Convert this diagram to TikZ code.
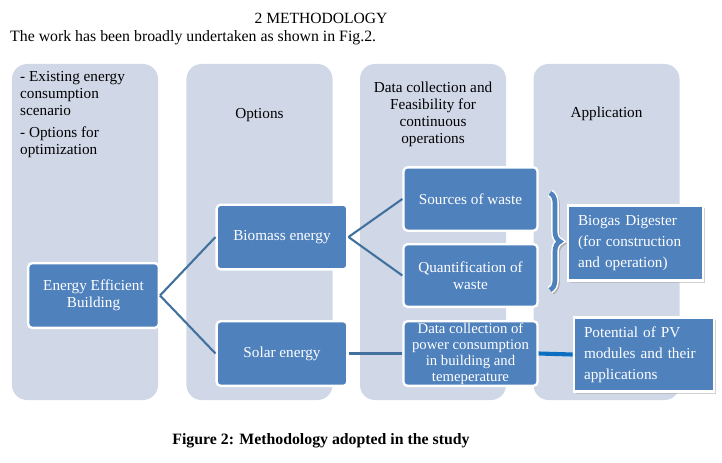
\documentclass[tikz,border=0pt]{standalone}
\usepackage{fontspec}
\setmainfont{Liberation Serif}
\usetikzlibrary{shadows,decorations.pathreplacing}
\definecolor{lanebg}{HTML}{D0D8E8}
\definecolor{boxblue}{HTML}{4F81BD}
\definecolor{linkblue}{HTML}{41719C}
\definecolor{hlblue}{HTML}{0B6EC0}
\newcommand{\boxfont}{\fontsize{13}{14.5}\selectfont}
\tikzset{
  lane/.style={rectangle, rounded corners=0.45cm, fill=lanebg, minimum width=4.38cm, minimum height=10.08cm, inner sep=0pt},
  head/.style={align=center, font=\boxfont},
  item/.style={rectangle, rounded corners=0.12cm, fill=boxblue, draw=white, line width=2pt, text=white, align=center, minimum width=3.92cm, minimum height=1.94cm, inner sep=0pt, font=\boxfont},
  result/.style={rectangle, fill=boxblue, draw=white, line width=2.5pt, text=white, align=left, inner xsep=0.3cm, font=\fontsize{13}{18}\selectfont, drop shadow={shadow xshift=2pt, shadow yshift=-2pt, fill=black!35}},
  connect/.style={draw=linkblue, line width=1.8pt},
  strong/.style={draw=hlblue, line width=3.5pt},
  curly/.style={decorate, decoration={brace, amplitude=0.3cm}}
}

\begin{document}
\begin{tikzpicture}[x=0.03cm, y=-0.03cm]
  \useasboundingbox (0,0) rectangle (722,462);

  \node[font=\fontsize{13.3}{15}\selectfont] (title) at (321,18) {2 METHODOLOGY};
  \node[font=\fontsize{13.5}{15}\selectfont, anchor=west, inner sep=0pt] (intro) at (10,38) {The work has been broadly undertaken as shown in Fig.2.};

  % columns
  \node[lane] (col1) at (85,232) {};
  \node[lane] (col2) at (259.5,232) {};
  \node[lane] (col3) at (433,232) {};
  \node[lane] (col4) at (606.5,232) {};

  \node[head, align=left, anchor=west, inner sep=0pt] (hdr1) at (20,114.5) {- Existing energy\\consumption\\scenario\\[4pt]- Options for\\optimization};
  \node[head] (hdr2) at (259.5,115) {Options};
  \node[head] (hdr3) at (433,114) {Data collection and\\Feasibility for\\continuous\\operations};
  \node[head] (hdr4) at (606.5,114) {Application};

  % boxes
  \node[item] (eeb) at (93.5,295.5) {Energy Efficient\\Building};
  \node[item] (biomass) at (282,237) {Biomass energy};
  \node[item] (solar) at (282,353.5) {Solar energy};
  \node[item, minimum width=4.02cm, minimum height=1.9cm] (sources) at (470.5,199) {Sources of waste};
  \node[item, minimum width=4.02cm, minimum height=1.88cm] (quant) at (470.5,275.5) {Quantification of\\waste};
  \node[item, minimum width=4.02cm, font=\fontsize{12.6}{13.6}\selectfont] (datacol) at (470.5,353.5) {Data collection of\\power consumption\\in building and\\temeperature};

  \node[result, text width=3.45cm, minimum height=2.25cm] (biogas) at (635.5,243) {Biogas Digester\\(for construction\\and operation)};
  \node[result, text width=3.6cm, minimum height=2.22cm] (pv) at (644,354.5) {Potential of PV\\modules and their\\applications};

  % links
  \draw[connect] (eeb.east) -- (biomass.west);
  \draw[connect] (eeb.east) -- (solar.west);
  \draw[connect] (biomass.east) -- (sources.west);
  \draw[connect] (biomass.east) -- (quant.west);
  \draw[connect] (solar.east) -- (datacol.west);
  \draw[strong] (datacol.east) -- (pv.west);

  % brace
  \draw[curly, draw=black!30, line width=5pt] (552,195) -- (552,292);
  \draw[curly, draw=white, line width=6.5pt] (550,193) -- (550,290);
  \draw[curly, draw=boxblue, line width=4pt] (550,193) -- (550,290);

  \node[font=\bfseries\fontsize{13.5}{15}\selectfont] (caption) at (321,441) {Figure 2: Methodology adopted in the study};
\end{tikzpicture}
\end{document}
